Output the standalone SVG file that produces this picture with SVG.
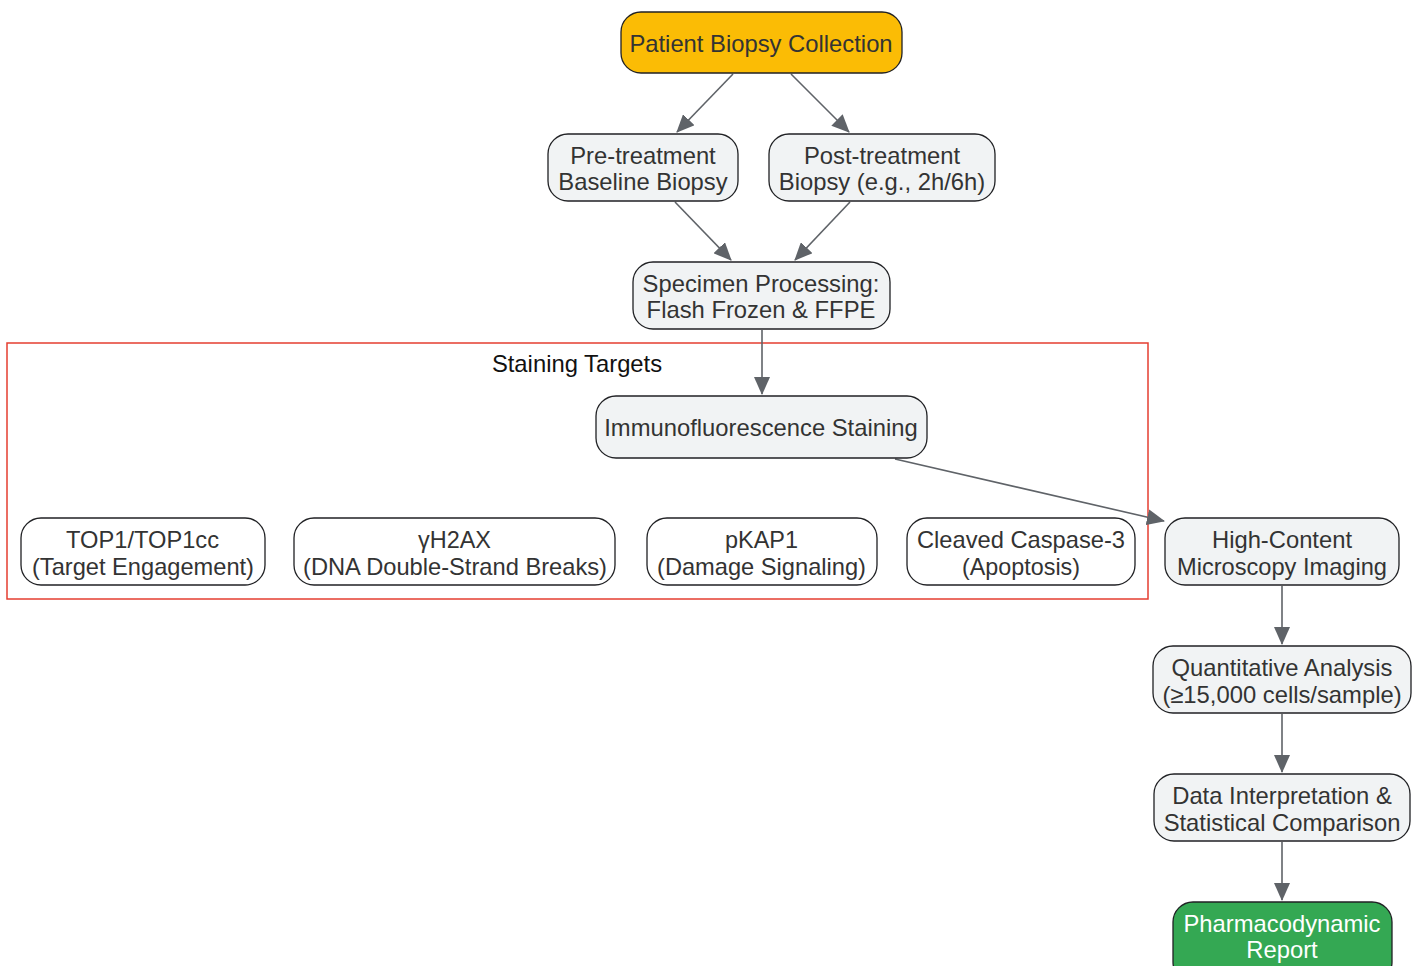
<svg xmlns="http://www.w3.org/2000/svg" width="1422" height="966" viewBox="0 0 1422 966">
<defs>
<marker id="arr" markerWidth="18" markerHeight="16" refX="17" refY="8" orient="auto" markerUnits="userSpaceOnUse">
<path d="M0,0 L18,8 L0,16 Z" fill="#5f6368"/>
</marker>
<style>
.n{fill:#f1f3f4;stroke:#202124;stroke-width:1.3}
.w{fill:#ffffff;stroke:#202124;stroke-width:1.3}
.t{font-family:"Liberation Sans",Arial,sans-serif;font-size:23.8px;fill:#333333;text-anchor:middle}
.c{font-family:"Liberation Sans",Arial,sans-serif;font-size:24px;fill:#333333;text-anchor:middle}
.e{stroke:#5f6368;stroke-width:1.6;fill:none;marker-end:url(#arr)}
</style>
</defs>
<rect width="1422" height="966" fill="#ffffff"/>
<g id="cluster">
<rect x="7" y="343" width="1141" height="256" fill="none" stroke="#e53e30" stroke-width="1.5"/>
<text class="t" x="577" y="372" style="fill:#111">Staining Targets</text>
</g>
<g id="edges">
<line class="e" x1="733" y1="74" x2="677" y2="132"/>
<line class="e" x1="791" y1="74" x2="849" y2="132"/>
<line class="e" x1="675" y1="202" x2="731" y2="260"/>
<line class="e" x1="850" y1="202" x2="795" y2="260"/>
<line class="e" x1="762" y1="330" x2="762" y2="394"/>
<line class="e" x1="895" y1="459" x2="1164" y2="521"/>
<line class="e" x1="1282" y1="586" x2="1282" y2="644"/>
<line class="e" x1="1282" y1="714" x2="1282" y2="772"/>
<line class="e" x1="1282" y1="842" x2="1282" y2="900"/>
</g>
<g id="patient">
<rect x="621" y="12" width="281" height="61" rx="20" fill="#fbbc05" stroke="#202124" stroke-width="1.3"/>
<text class="t" x="761" y="52">Patient Biopsy Collection</text>
</g>
<g id="pre">
<rect class="n" x="548" y="134" width="190" height="67" rx="20"/>
<text class="t" x="643" y="164">Pre-treatment</text>
<text class="t" x="643" y="190">Baseline Biopsy</text>
</g>
<g id="post">
<rect class="n" x="769" y="134" width="226" height="67" rx="20"/>
<text class="t" x="882" y="164">Post-treatment</text>
<text class="t" x="882" y="190">Biopsy (e.g., 2h/6h)</text>
</g>
<g id="specimen">
<rect class="n" x="633" y="262" width="257" height="67" rx="20"/>
<text class="t" x="761" y="292">Specimen Processing:</text>
<text class="t" x="761" y="318">Flash Frozen &amp; FFPE</text>
</g>
<g id="if">
<rect class="n" x="596" y="396" width="331" height="62" rx="20"/>
<text class="t" x="761" y="436">Immunofluorescence Staining</text>
</g>
<g id="top1">
<rect class="w" x="21" y="518" width="244" height="67" rx="20"/>
<text class="c" x="142.5" y="548" textLength="153" lengthAdjust="spacingAndGlyphs">TOP1/TOP1cc</text>
<text class="c" x="143" y="575" textLength="222" lengthAdjust="spacingAndGlyphs">(Target Engagement)</text>
</g>
<g id="h2ax">
<rect class="w" x="294" y="518" width="321" height="67" rx="20"/>
<text class="c" x="454.5" y="548" textLength="73" lengthAdjust="spacingAndGlyphs">γH2AX</text>
<text class="c" x="455" y="575" textLength="304" lengthAdjust="spacingAndGlyphs">(DNA Double-Strand Breaks)</text>
</g>
<g id="pkap1">
<rect class="w" x="647" y="518" width="230" height="67" rx="20"/>
<text class="c" x="761.5" y="548" textLength="73" lengthAdjust="spacingAndGlyphs">pKAP1</text>
<text class="c" x="761.5" y="575" textLength="209" lengthAdjust="spacingAndGlyphs">(Damage Signaling)</text>
</g>
<g id="casp3">
<rect class="w" x="907" y="518" width="228" height="67" rx="20"/>
<text class="c" x="1021" y="548" textLength="208" lengthAdjust="spacingAndGlyphs">Cleaved Caspase-3</text>
<text class="c" x="1021" y="575" textLength="118" lengthAdjust="spacingAndGlyphs">(Apoptosis)</text>
</g>
<g id="imaging">
<rect class="n" x="1165" y="518" width="234" height="67" rx="20"/>
<text class="c" x="1282" y="548" textLength="140" lengthAdjust="spacingAndGlyphs">High-Content</text>
<text class="c" x="1282" y="575" textLength="210" lengthAdjust="spacingAndGlyphs">Microscopy Imaging</text>
</g>
<g id="quant">
<rect class="n" x="1153" y="646" width="258" height="67" rx="20"/>
<text class="t" x="1282" y="676">Quantitative Analysis</text>
<text class="t" x="1282" y="703">(≥15,000 cells/sample)</text>
</g>
<g id="interp">
<rect class="n" x="1154" y="774" width="256" height="67" rx="20"/>
<text class="t" x="1282" y="804">Data Interpretation &amp;</text>
<text class="t" x="1282" y="831">Statistical Comparison</text>
</g>
<g id="report">
<rect x="1173" y="902" width="219" height="80" rx="20" fill="#34a853" stroke="#202124" stroke-width="1.3"/>
<text class="t" x="1282" y="932" style="fill:#ffffff">Pharmacodynamic</text>
<text class="t" x="1282" y="958" style="fill:#ffffff">Report</text>
</g>
</svg>
